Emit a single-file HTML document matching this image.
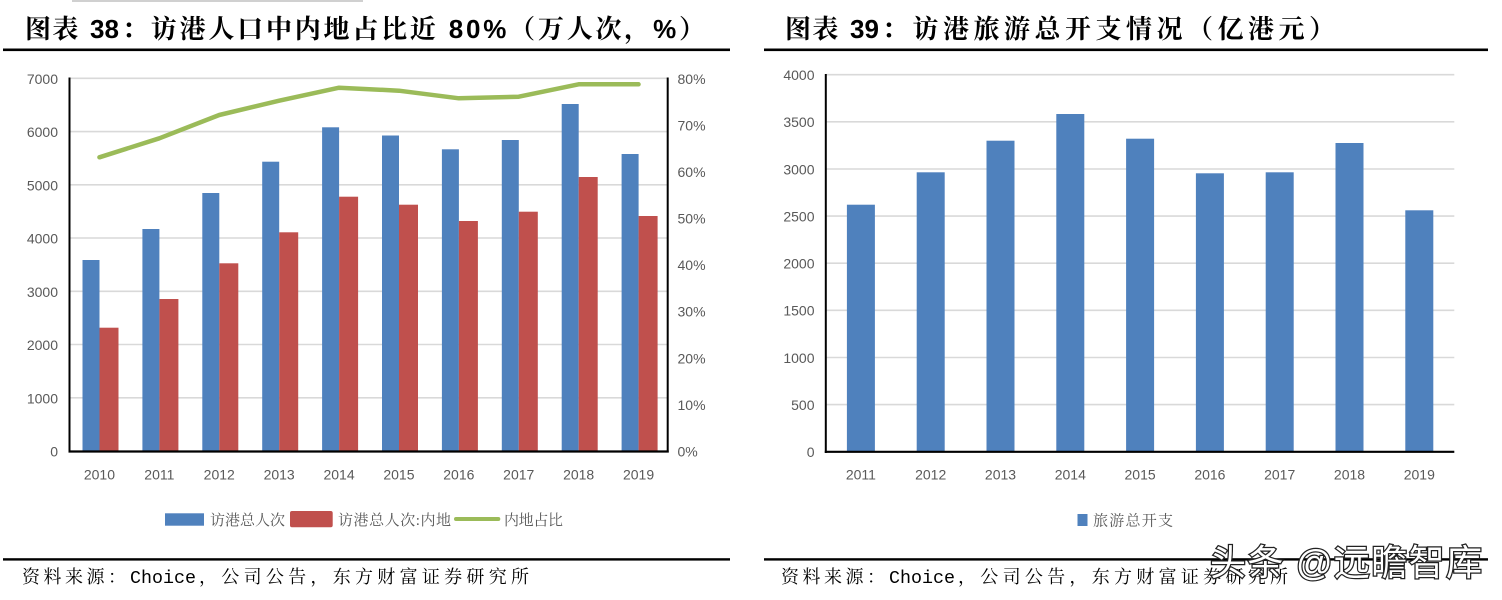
<!DOCTYPE html>
<html>
<head>
<meta charset="utf-8">
<style>
html,body{margin:0;padding:0;background:#fff;}
body{width:1502px;height:600px;overflow:hidden;}
svg{display:block;}
.tick{font-family:"Liberation Sans",sans-serif;font-size:14px;fill:#595959;}
.ttl{font-family:"Liberation Sans","Noto Serif CJK SC",serif;font-size:26px;font-weight:700;fill:#000;}
.lg{font-family:"Liberation Serif","Noto Serif CJK SC",serif;font-size:15px;fill:#595959;}
.ft{font-family:"Liberation Mono","Noto Serif CJK SC",serif;font-size:18px;fill:#000;}
.wm{font-family:"Liberation Sans","Noto Sans CJK SC",sans-serif;font-size:36px;fill:#fff;stroke:#222;stroke-width:2.5;paint-order:stroke fill;}
</style>
</head>
<body>
<svg width="1502" height="600" viewBox="0 0 1502 600" xmlns="http://www.w3.org/2000/svg">
<rect x="0" y="0" width="1502" height="600" fill="#fff"/>
<rect x="72" y="0" width="291" height="2" fill="#d0d0d0"/>

<!-- ===== LEFT TITLE ===== -->
<text class="ttl" y="38"><tspan x="25" textLength="62" lengthAdjust="spacing">图表 </tspan><tspan x="90">38</tspan><tspan x="122" textLength="583" lengthAdjust="spacing">：访港人口中内地占比近 80%（万人次，%）</tspan></text>
<rect x="3" y="48.5" width="727" height="2.6" fill="#000"/>

<!-- ===== LEFT CHART ===== -->
<g stroke="#D9D9D9" stroke-width="1.6">
<line x1="69.5" y1="397.8" x2="668" y2="397.8"/>
<line x1="69.5" y1="344.5" x2="668" y2="344.5"/>
<line x1="69.5" y1="291.3" x2="668" y2="291.3"/>
<line x1="69.5" y1="238.0" x2="668" y2="238.0"/>
<line x1="69.5" y1="184.8" x2="668" y2="184.8"/>
<line x1="69.5" y1="131.6" x2="668" y2="131.6"/>
<line x1="69.5" y1="78.3" x2="668" y2="78.3"/>
</g>
<g fill="#4F81BD">
<rect x="82.5" y="260" width="17" height="191"/>
<rect x="142.4" y="229" width="17" height="222"/>
<rect x="202.3" y="193" width="17" height="258"/>
<rect x="262.2" y="161.7" width="17" height="289.3"/>
<rect x="322.1" y="127.3" width="17" height="323.7"/>
<rect x="382.0" y="135.5" width="17" height="315.5"/>
<rect x="441.9" y="149.3" width="17" height="301.7"/>
<rect x="501.8" y="140" width="17" height="311"/>
<rect x="561.7" y="104" width="17" height="347"/>
<rect x="621.6" y="154" width="17" height="297"/>
</g>
<g fill="#C0504D">
<rect x="99.5" y="327.7" width="19" height="123.3"/>
<rect x="159.4" y="299" width="19" height="152"/>
<rect x="219.3" y="263.3" width="19" height="187.7"/>
<rect x="279.2" y="232.3" width="19" height="218.7"/>
<rect x="339.1" y="196.7" width="19" height="254.3"/>
<rect x="399.0" y="204.7" width="19" height="246.3"/>
<rect x="458.9" y="221" width="19" height="230"/>
<rect x="518.8" y="211.7" width="19" height="239.3"/>
<rect x="578.7" y="177" width="19" height="274"/>
<rect x="638.6" y="216" width="19" height="235"/>
</g>
<polyline fill="none" stroke="#9BBB59" stroke-width="4.5" stroke-linejoin="round" stroke-linecap="round"
 points="99.45,157.3 159.35,138.3 219.25,115 279.15,100.7 339.05,87.7 398.95,90.7 458.85,98.3 518.75,96.7 578.65,84.3 638.55,84.3"/>
<line x1="69.5" y1="77.5" x2="69.5" y2="452.5" stroke="#000" stroke-width="2"/>
<line x1="667.7" y1="77.5" x2="667.7" y2="452.5" stroke="#000" stroke-width="2"/>
<line x1="68.5" y1="451.5" x2="668.7" y2="451.5" stroke="#000" stroke-width="2.2"/>
<g class="tick" text-anchor="end">
<text x="58" y="456.5">0</text>
<text x="58" y="403.3">1000</text>
<text x="58" y="350">2000</text>
<text x="58" y="296.8">3000</text>
<text x="58" y="243.5">4000</text>
<text x="58" y="190.3">5000</text>
<text x="58" y="137.1">6000</text>
<text x="58" y="83.8">7000</text>
</g>
<g class="tick" text-anchor="start">
<text x="677.5" y="456.5">0%</text>
<text x="677.5" y="409.9">10%</text>
<text x="677.5" y="363.3">20%</text>
<text x="677.5" y="316.7">30%</text>
<text x="677.5" y="270.1">40%</text>
<text x="677.5" y="223.5">50%</text>
<text x="677.5" y="177">60%</text>
<text x="677.5" y="130.4">70%</text>
<text x="677.5" y="83.8">80%</text>
</g>
<g class="tick" text-anchor="middle">
<text x="99.45" y="479.5">2010</text>
<text x="159.35" y="479.5">2011</text>
<text x="219.25" y="479.5">2012</text>
<text x="279.15" y="479.5">2013</text>
<text x="339.05" y="479.5">2014</text>
<text x="398.95" y="479.5">2015</text>
<text x="458.85" y="479.5">2016</text>
<text x="518.75" y="479.5">2017</text>
<text x="578.65" y="479.5">2018</text>
<text x="638.55" y="479.5">2019</text>
</g>
<rect x="165" y="513.3" width="39" height="12.4" fill="#4F81BD"/>
<text class="lg" x="210" y="525" textLength="75" lengthAdjust="spacing">访港总人次</text>
<rect x="290" y="511" width="42.7" height="16.3" rx="2" fill="#C0504D"/>
<text class="lg" x="338" y="525" textLength="113" lengthAdjust="spacing">访港总人次:内地</text>
<line x1="456" y1="519" x2="498.3" y2="519" stroke="#9BBB59" stroke-width="4" stroke-linecap="round"/>
<text class="lg" x="504" y="525" textLength="59" lengthAdjust="spacing">内地占比</text>

<rect x="3" y="558.2" width="727" height="2.4" fill="#000"/>
<text class="ft" y="583"><tspan x="22" textLength="104" lengthAdjust="spacing">资料来源：</tspan><tspan x="130" textLength="66" lengthAdjust="spacingAndGlyphs">Choice</tspan><tspan x="199" textLength="330" lengthAdjust="spacing">，公司公告，东方财富证券研究所</tspan></text>

<!-- ===== RIGHT TITLE ===== -->
<text class="ttl" y="38"><tspan x="785" textLength="62" lengthAdjust="spacing">图表 </tspan><tspan x="850">39</tspan><tspan x="882" textLength="453" lengthAdjust="spacing">：访港旅游总开支情况（亿港元）</tspan></text>
<rect x="764" y="48.5" width="724" height="2.6" fill="#000"/>

<!-- ===== RIGHT CHART ===== -->
<g stroke="#D9D9D9" stroke-width="1.6">
<line x1="826" y1="404.6" x2="1454.3" y2="404.6"/>
<line x1="826" y1="357.5" x2="1454.3" y2="357.5"/>
<line x1="826" y1="310.3" x2="1454.3" y2="310.3"/>
<line x1="826" y1="263.2" x2="1454.3" y2="263.2"/>
<line x1="826" y1="216.1" x2="1454.3" y2="216.1"/>
<line x1="826" y1="169.0" x2="1454.3" y2="169.0"/>
<line x1="826" y1="121.8" x2="1454.3" y2="121.8"/>
<line x1="826" y1="74.7" x2="1454.3" y2="74.7"/>
</g>
<g fill="#4F81BD">
<rect x="846.9" y="204.7" width="28" height="247"/>
<rect x="916.7" y="172.3" width="28" height="279.4"/>
<rect x="986.5" y="140.7" width="28" height="311"/>
<rect x="1056.3" y="114" width="28" height="337.7"/>
<rect x="1126.1" y="138.7" width="28" height="313"/>
<rect x="1195.9" y="173.3" width="28" height="278.4"/>
<rect x="1265.7" y="172.3" width="28" height="279.4"/>
<rect x="1335.5" y="143" width="28" height="308.7"/>
<rect x="1405.3" y="210.3" width="28" height="241.4"/>
</g>
<line x1="825.8" y1="74" x2="825.8" y2="453" stroke="#000" stroke-width="2"/>
<line x1="824.8" y1="451.8" x2="1454.3" y2="451.8" stroke="#000" stroke-width="2.2"/>
<g class="tick" text-anchor="end">
<text x="814.5" y="457">0</text>
<text x="814.5" y="409.9">500</text>
<text x="814.5" y="362.8">1000</text>
<text x="814.5" y="315.6">1500</text>
<text x="814.5" y="268.5">2000</text>
<text x="814.5" y="221.4">2500</text>
<text x="814.5" y="174.3">3000</text>
<text x="814.5" y="127.1">3500</text>
<text x="814.5" y="80">4000</text>
</g>
<g class="tick" text-anchor="middle">
<text x="860.9" y="479.5">2011</text>
<text x="930.7" y="479.5">2012</text>
<text x="1000.5" y="479.5">2013</text>
<text x="1070.3" y="479.5">2014</text>
<text x="1140.1" y="479.5">2015</text>
<text x="1209.9" y="479.5">2016</text>
<text x="1279.7" y="479.5">2017</text>
<text x="1349.5" y="479.5">2018</text>
<text x="1419.3" y="479.5">2019</text>
</g>
<rect x="1077.5" y="514" width="10" height="12" fill="#4F81BD"/>
<text class="lg" x="1093" y="525.5" textLength="80" lengthAdjust="spacing">旅游总开支</text>

<rect x="764" y="558.2" width="724" height="2.4" fill="#000"/>
<text class="ft" y="583"><tspan x="781" textLength="104" lengthAdjust="spacing">资料来源：</tspan><tspan x="889" textLength="66" lengthAdjust="spacingAndGlyphs">Choice</tspan><tspan x="958" textLength="330" lengthAdjust="spacing">，公司公告，东方财富证券研究所</tspan></text>

<text class="wm" x="1210" y="575" textLength="272" lengthAdjust="spacing">头条 @远瞻智库</text>
</svg>
</body>
</html>
